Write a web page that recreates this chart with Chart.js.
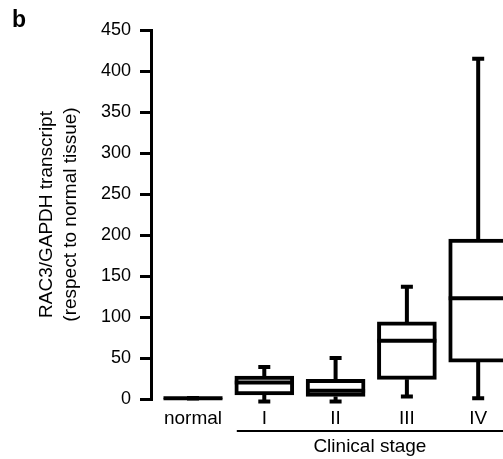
<!DOCTYPE html>
<html>
<head>
<meta charset="utf-8">
<script src="https://cdn.jsdelivr.net/npm/chart.js@4"></script>
<style>
  body { margin: 0; background: #fff; overflow: hidden; }
</style>
</head>
<body>
<canvas id="box" width="503" height="459"></canvas>
<script>
// box plot values
const groups = ['normal', 'I', 'II', 'III', 'IV'];
const mins = [0.7, -3, -3, 3, 1];
const q1s = [0.8, 5, 3, 24, 45];
const medians = [1, 20, 10, 71, 123];
const q3s = [1.2, 28, 24, 94, 195];
const maxs = [1.3, 39, 50, 137, 415];
const yTicks = [0, 50, 100, 150, 200, 250, 300, 350, 400, 450];

const FONT = 'Arial, "Liberation Sans", sans-serif';
const BOX_W = 59;

const whiskers = {
  id: 'whiskers',
  afterDatasetsDraw(chart) {
    const ctx = chart.ctx;
    const x = chart.scales.x, y = chart.scales.y;
    ctx.save();
    ctx.strokeStyle = '#000';
    ctx.lineWidth = 4;
    groups.forEach((g, i) => {
      const cx = x.getPixelForValue(i);
      const l = cx - BOX_W / 2, r = cx + BOX_W / 2;
      // median
      ctx.beginPath();
      ctx.moveTo(l, y.getPixelForValue(medians[i]));
      ctx.lineTo(r, y.getPixelForValue(medians[i]));
      ctx.stroke();
      // whiskers + caps
      [[q3s[i], maxs[i]], [q1s[i], mins[i]]].forEach(([from, to]) => {
        const ty = y.getPixelForValue(to);
        ctx.beginPath();
        ctx.moveTo(cx, y.getPixelForValue(from));
        ctx.lineTo(cx, ty);
        ctx.moveTo(cx - 6, ty);
        ctx.lineTo(cx + 6, ty);
        ctx.stroke();
      });
    });

    // clinical stage bracket
    const x1 = x.getPixelForValue(1) - BOX_W / 2 + 2;
    const x2 = chart.width;
    const by = chart.chartArea.bottom + 32;
    ctx.lineWidth = 2;
    ctx.beginPath();
    ctx.moveTo(x1, by);
    ctx.lineTo(x2, by);
    ctx.stroke();
    ctx.fillStyle = '#000';
    ctx.font = '19px ' + FONT;
    ctx.textAlign = 'center';
    ctx.textBaseline = 'alphabetic';
    ctx.fillText('Clinical stage', (x1 + x2) / 2, by + 21);

    // panel letter
    ctx.font = 'bold 23px ' + FONT;
    ctx.textAlign = 'left';
    ctx.fillText('b', 12, 27);
    ctx.restore();
  }
};

new Chart(document.getElementById('box'), {
  type: 'bar',
  data: {
    datasets: [{
      data: groups.map((g, i) => ({ x: i, y: [q1s[i], q3s[i]] })),
      backgroundColor: '#fff',
      borderColor: '#000',
      borderWidth: 4,
      borderSkipped: false,
      barThickness: BOX_W
    }]
  },
  options: {
    responsive: false,
    animation: false,
    devicePixelRatio: 1,
    layout: { padding: { top: 30, left: 0, right: 0, bottom: 0 } },
    plugins: { legend: { display: false }, tooltip: { enabled: false } },
    scales: {
      x: {
        type: 'linear',
        offset: false,
        min: -0.589,
        max: 4.348,
        grid: { display: false, drawTicks: false },
        border: { display: false },
        afterBuildTicks: s => { s.ticks = groups.map((g, i) => ({ value: i })); },
        afterFit: s => { s.height = 60; },
        ticks: {
          autoSkip: false,
          maxRotation: 0,
          padding: 8,
          color: '#000',
          font: { family: FONT, size: 19 },
          callback: v => groups[v]
        }
      },
      y: {
        min: 0,
        max: 450,
        afterBuildTicks: s => { s.ticks = yTicks.map(v => ({ value: v })); },
        afterFit: s => { s.width = 151; },
        grid: {
          drawOnChartArea: false,
          color: '#000',
          lineWidth: 3,
          tickLength: 11,
          tickWidth: 3
        },
        border: { display: true, color: '#000', width: 3 },
        ticks: {
          padding: 9,
          color: '#000',
          font: { family: FONT, size: 18 }
        },
        title: {
          display: true,
          text: ['RAC3/GAPDH transcript', '(respect to normal tissue)'],
          color: '#000',
          padding: { top: 35, bottom: 0 },
          font: { family: FONT, size: 19, lineHeight: 1.26 }
        }
      }
    }
  },
  plugins: [whiskers]
});
</script>
</body>
</html>
